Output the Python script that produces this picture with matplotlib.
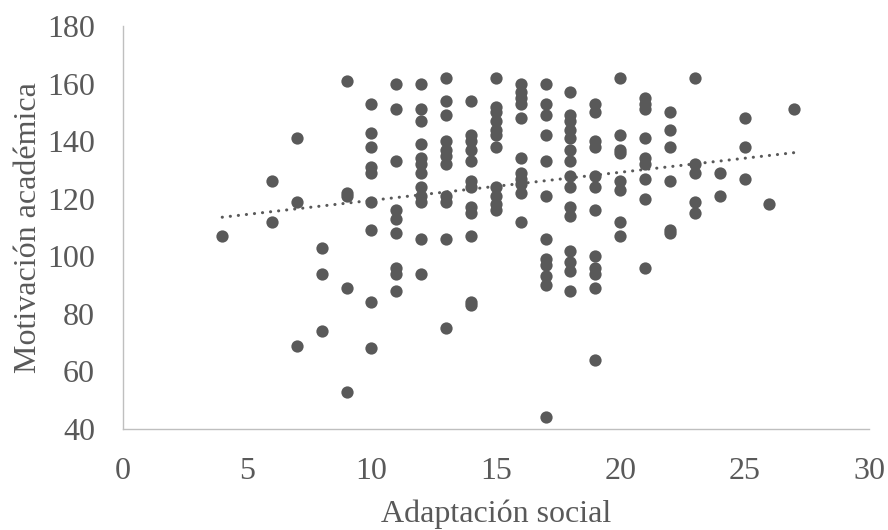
import numpy as np
import matplotlib
matplotlib.use("Agg")
import matplotlib.pyplot as plt

# Data: Adaptación social (x) vs Motivación académica (y)
x4 = [107]
x6 = [126, 112]
x7 = [141, 119, 69]
x8 = [103, 94, 74]
x9 = [161, 122, 121, 89, 53]
x10 = [153, 143, 138, 131, 129, 119, 109, 84, 68]
x11 = [160, 151, 133, 116, 113, 108, 96, 94, 88]
x12 = [160, 151, 147, 139, 134, 132, 129, 124, 121, 119, 106, 94]
x13 = [162, 154, 149, 140, 137, 135, 132, 121, 119, 106, 75]
x14 = [154, 142, 140, 137, 133, 126, 124, 117, 115, 107, 84, 83]
x15 = [162, 152, 150, 147, 144, 142, 138, 124, 121, 118, 116]
x16 = [160, 157, 155, 153, 148, 134, 129, 127, 125, 122, 112]
x17 = [160, 153, 149, 142, 133, 121, 106, 99, 97, 93, 90, 44]
x18 = [157, 149, 147, 144, 141, 137, 133, 128, 124, 117, 114, 102, 98, 95, 88]
x19 = [153, 150, 140, 138, 128, 124, 116, 100, 96, 94, 89, 64]
x20 = [162, 142, 137, 136, 126, 123, 112, 107]
x21 = [155, 153, 151, 141, 134, 132, 127, 120, 96]
x22 = [150, 144, 138, 126, 109, 108]
x23 = [162, 132, 129, 119, 115]
x24 = [129, 121]
x25 = [148, 138, 127]
x26 = [118]
x27 = [151]

columns = {4: x4, 6: x6, 7: x7, 8: x8, 9: x9, 10: x10, 11: x11, 12: x12,
           13: x13, 14: x14, 15: x15, 16: x16, 17: x17, 18: x18, 19: x19,
           20: x20, 21: x21, 22: x22, 23: x23, 24: x24, 25: x25, 26: x26, 27: x27}

adaptacion = []
motivacion = []
for k, vals in columns.items():
    adaptacion += [k] * len(vals)
    motivacion += vals
adaptacion = np.array(adaptacion, dtype=float)
motivacion = np.array(motivacion, dtype=float)

x_ticks = [0, 5, 10, 15, 20, 25, 30]
y_ticks = [40, 60, 80, 100, 120, 140, 160, 180]

plt.rcParams['font.family'] = ['Liberation Serif', 'DejaVu Serif']
grey = '#595959'

fig = plt.figure(figsize=(8.88, 5.30), dpi=100)
ax = fig.add_axes([0.1382, 0.1906, 0.9786 - 0.1382, 0.9509 - 0.1906])

ax.scatter(adaptacion, motivacion, s=78, color=grey, linewidths=0, zorder=3)

# Linear trend line
m, b = np.polyfit(adaptacion, motivacion, 1)
xt = np.array([adaptacion.min(), adaptacion.max()])
ax.plot(xt, m * xt + b, color=grey, linewidth=2.2,
        linestyle=(0, (0.05, 2.6)), dash_capstyle='round', zorder=2)

ax.set_xlim(0, 30)
ax.set_ylim(40, 180)
ax.set_xticks(x_ticks)
ax.set_yticks(y_ticks)
ax.tick_params(axis='both', length=0, labelsize=23, labelcolor=grey)
ax.tick_params(axis='x', pad=20)
ax.tick_params(axis='y', pad=20)

for side in ['top', 'right']:
    ax.spines[side].set_visible(False)
for side in ['left', 'bottom']:
    ax.spines[side].set_color('#BFBFBF')
    ax.spines[side].set_linewidth(1.0)

ax.set_xlabel('Adaptación social', fontsize=23, color=grey, labelpad=10)
ax.set_ylabel('Motivación académica', fontsize=23, color=grey, labelpad=3)

fig.savefig('out.png', dpi=100)
